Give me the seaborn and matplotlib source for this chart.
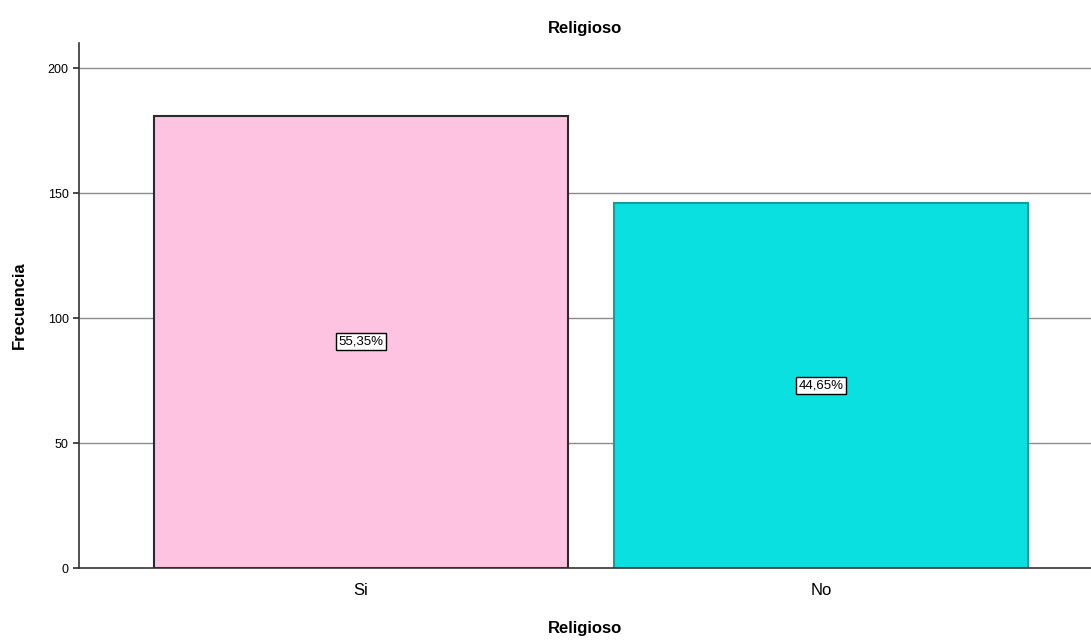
import matplotlib
matplotlib.use("Agg")
import matplotlib.pyplot as plt
import seaborn as sns
import pandas as pd

categories = ["Si", "No"]
counts = [181, 146]
percent_labels = ["55,35%", "44,65%"]
bar_colors = ["#FEC3E1", "#0AE0E0"]
edge_colors = ["#2B2B2B", "#1A9C9C"]
y_ticks = [0, 50, 100, 150, 200]

sns.set_theme(style="white")
plt.rcParams["font.family"] = ["Liberation Sans", "DejaVu Sans"]
plt.rcParams["text.color"] = "black"
plt.rcParams["axes.labelcolor"] = "black"
plt.rcParams["xtick.color"] = "black"
plt.rcParams["ytick.color"] = "black"

df = pd.DataFrame({"Religioso": categories, "Frecuencia": counts})

fig = plt.figure(figsize=(10.91, 6.43), dpi=100)
ax = fig.add_axes([0.0724, 0.1166, 0.9276, 0.8165])

for y in y_ticks[1:]:
    ax.axhline(y, color="#8C8C8C", lw=1.0, zorder=0)

sns.barplot(data=df, x="Religioso", y="Frecuencia", hue="Religioso",
            palette=dict(zip(categories, bar_colors)), order=categories,
            width=0.9, saturation=1, legend=False, ax=ax, zorder=2)

for patch, ec in zip(ax.patches, edge_colors):
    patch.set_edgecolor(ec)
    patch.set_linewidth(1.5)

for i, (c, lab) in enumerate(zip(counts, percent_labels)):
    ax.text(i, c / 2, lab, ha="center", va="center", fontsize=9.5, color="black",
            zorder=5,
            bbox=dict(boxstyle="square,pad=0.2", facecolor="white",
                      edgecolor="black", linewidth=1.0))

ax.set_xlim(-0.613, 1.587)
ax.set_ylim(0, 210)
ax.set_yticks(y_ticks)
ax.tick_params(axis="y", labelsize=9, length=4, color="#333333", left=True)
ax.tick_params(axis="x", labelsize=12, length=0, pad=11)

for side in ["top", "right"]:
    ax.spines[side].set_visible(False)
for side in ["left", "bottom"]:
    ax.spines[side].set_color("#333333")
    ax.spines[side].set_linewidth(1.2)

ax.set_xlabel("Religioso", fontsize=12, fontweight="bold", labelpad=16)
ax.set_ylabel("Frecuencia", fontsize=12, fontweight="bold", labelpad=15)
ax.set_title("Religioso", fontsize=12, fontweight="bold", pad=7)

fig.savefig("out.png", dpi=100, facecolor="white")
